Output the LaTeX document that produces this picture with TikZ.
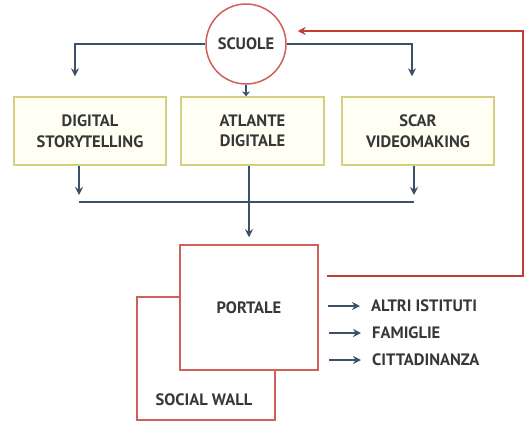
\documentclass[tikz,border=0pt]{standalone}
\usepackage{fontspec}
\setmainfont{PT Sans}
\usepackage{tikz}
\usetikzlibrary{arrows.meta,positioning,calc}
\usepackage{xcolor}
\definecolor{slate}{RGB}{59,81,105}
\definecolor{brick}{RGB}{196,62,52}
\definecolor{rose}{RGB}{208,96,90}
\definecolor{khaki}{RGB}{214,206,130}
\definecolor{ivory}{RGB}{255,255,243}
\definecolor{ink}{RGB}{55,55,55}

\begin{document}
\begin{tikzpicture}[x=1pt,y=-1pt,
  every node/.style={font=\fontsize{16.5}{20.5}\selectfont\bfseries,text=ink},
  flow/.style={-{Stealth[length=8pt,width=8pt]},slate,line width=2pt},
  back/.style={-{Stealth[length=8pt,width=8pt]},brick,line width=2pt},
  project/.style={draw=khaki,fill=ivory,line width=1.3pt,minimum width=152pt,
    minimum height=68pt,align=center},
  site/.style={draw=rose,fill=white,line width=1.5pt,minimum width=138pt}]
\useasboundingbox (0,0) rectangle (527,421);
% sorgente e progetti
\node[draw=rose,line width=1.5pt,circle,minimum size=80pt,inner sep=0pt]
  (scuole) at (246,44) {SCUOLE};
\node[project] (digital) at (90,131) {DIGITAL\\STORYTELLING};
\node[project,minimum width=143pt] (atlante) at (252.5,131) {ATLANTE\\DIGITALE};
\node[project] (scar) at (418,131) {SCAR\\VIDEOMAKING};
% portale e social wall
\node[site,minimum height=123pt] (social) at (206,358.5) {};
\node[anchor=south,inner sep=0pt] (sociallbl) at (204,406) {SOCIAL WALL};
\node[site,minimum height=125pt] (portale) at (249,307.5) {PORTALE};
% destinatari
\node[anchor=west,inner sep=0pt] (altri) at (371,306) {ALTRI ISTITUTI};
\node[anchor=west,inner sep=0pt] (famiglie) at (372,333) {FAMIGLIE};
\node[anchor=west,inner sep=0pt] (citta) at (372,360) {CITTADINANZA};
\coordinate (busL) at (79,202);
\coordinate (busR) at (414,202);
\coordinate (fb) at (327,276);

\draw[flow,shorten >=20pt] (scuole.west) -| ([xshift=-15pt]digital.north);
\draw[flow,shorten >=20pt] (scuole.east) -| ([xshift=-6pt]scar.north);
\draw[flow,-{Stealth[length=5pt,width=8pt]}] (scuole.south) -- (scuole.south |- atlante.north);
\draw[slate,line width=2pt] (busL) -- (busR);
\draw[flow,shorten >=7pt] (digital.south -| busL) -- (busL);
\draw[flow,shorten >=7pt] (scar.south -| busR) -- (busR);
\draw[flow,shorten >=7pt] (portale.north |- atlante.south) -- (portale.north);
\draw[back,shorten >=11pt] (fb) -| (523,31) -- ([yshift=13pt]scuole.east);
\foreach \t in {altri,famiglie,citta}
  \draw[flow,shorten >=11pt] ([xshift=-43pt]\t.west) -- (\t.west);
\end{tikzpicture}
\end{document}
